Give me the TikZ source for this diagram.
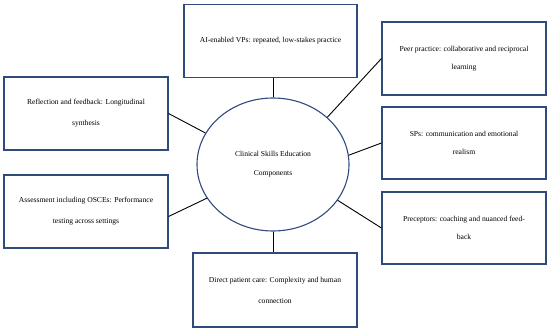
\documentclass[tikz,border=0pt]{standalone}
\usepackage{fontspec}
\setmainfont{Liberation Serif}
\usetikzlibrary{shapes.geometric,calc}
\definecolor{navy}{HTML}{2F4B7C}

\begin{document}
\begin{tikzpicture}[
  x=1pt,y=-1pt,
  comp/.style={rectangle,draw=navy,line width=1.1pt,minimum width=164pt,
               minimum height=73pt,align=center,inner sep=0pt,
               font=\fontsize{7.6}{21}\selectfont},
  rcomp/.style={comp,font=\fontsize{7.6}{18}\selectfont},
  hubnode/.style={ellipse,draw=navy,line width=1.1pt,minimum width=152pt,
                  minimum height=133pt,inner sep=0pt,align=center,
                  font=\fontsize{7.6}{19}\selectfont},
  link/.style={black,line width=0.9pt},
]
\useasboundingbox (0,0) rectangle (550,331);

% centre
\node[hubnode] (hub) at (273,164.5) {Clinical Skills Education\\Components};

% components round it
\node[comp,minimum width=173pt] (vps) at (270.5,41) {AI-enabled VPs: repeated, low-stakes practice};
\node[rcomp] (peer) at (464,58.5) {Peer practice: collaborative and reciprocal\\learning};
\node[rcomp,minimum height=72pt] (sps) at (464,143) {SPs: communication and emotional\\realism};
\node[rcomp,minimum height=72pt] (prec) at (464,228) {Preceptors: coaching and nuanced feed-\\back};
\node[comp,minimum height=74pt] (direct) at (275,290) {Direct patient care: Complexity and human\\connection};
\node[comp] (refl) at (86,113.5) {Reflection and feedback: Longitudinal\\synthesis};
\node[comp] (assess) at (86,211.5) {Assessment including OSCEs: Performance\\testing across settings};

\draw[link] (hub.north) -- (hub.north |- vps.south);
\draw[link] (hub.41) -- (peer.west);
\draw[link] (hub.7) -- (sps.west);
\draw[link] (hub.-29) -- (prec.west);
\draw[link] (hub.south) -- (hub.south |- direct.north);
\draw[link] (hub.155) -- (refl.east);
\draw[link] (hub.207) -- ($(assess.east)+(0,5)$);
\end{tikzpicture}
\end{document}
